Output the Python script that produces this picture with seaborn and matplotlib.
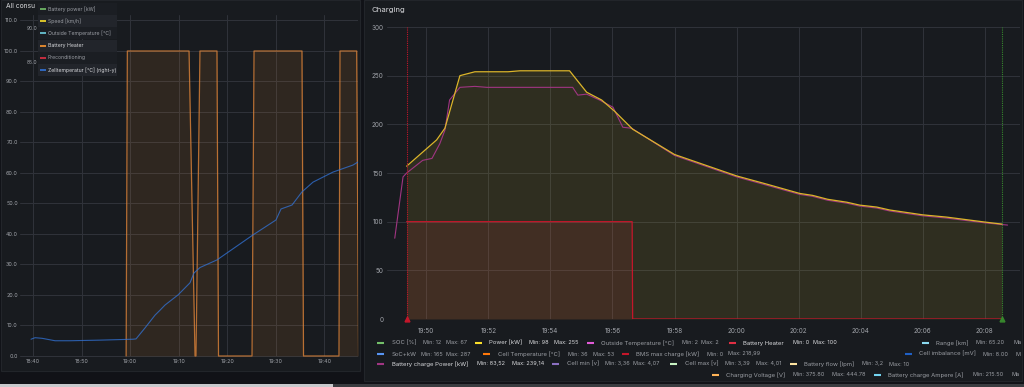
import numpy as np
import pandas as pd
import seaborn as sns
import matplotlib.pyplot as plt
import matplotlib.dates as mdates
from matplotlib.patches import Rectangle

W, H = 1024, 387
DAY = '2023-01-14 '

# ---- left panel "All consumers" ----
heater_time = ['18:59:10', '18:59:25', '19:12:07', '19:13:21', '19:13:33', '19:14:22',
               '19:17:52', '19:18:11', '19:25:05', '19:25:30', '19:35:22', '19:35:41',
               '19:42:59', '19:43:12', '19:46:38', '19:47:01']
heater_val = [0, 100, 100, 0, 0, 100, 100, 0, 0, 100, 100, 0, 0, 100, 100, 0]

cell_time = ['18:39:35', '18:40:25', '18:41:51', '18:44:32', '18:47:37', '18:53:47',
             '19:00:35', '19:01:12', '19:03:03', '19:05:07', '19:06:08', '19:07:10',
             '19:09:50', '19:12:19', '19:13:08', '19:14:22', '19:17:52', '19:25:17',
             '19:30:01', '19:31:03', '19:33:19', '19:35:22', '19:37:38', '19:41:45',
             '19:45:52', '19:47:18']
cell_val = [5.5, 6.0, 5.8, 5.0, 5.0, 5.2, 5.5, 5.6, 9.2, 13.4, 15.0, 16.7, 20.0, 24.0,
            27.2, 29.0, 31.5, 39.7, 44.6, 48.2, 49.5, 53.8, 57.0, 60.3, 62.6, 64.0]

left_legend = ['Battery power [kW]', 'Speed [km/h]', 'Outside Temperature [°C]',
               'Battery Heater', 'Preconditioning', 'Zelltemperatur [°C] (right-y)']
left_colors = ['#73bf69', '#fade2a', '#6ed0e0', '#ff9830', '#e02f44', '#3274d9']

# ---- right panel "Charging" ----
power_time = ['19:49:22', '19:50:20', '19:50:36', '19:51:05', '19:51:34', '19:52:38',
              '19:53:01', '19:54:37', '19:55:10', '19:55:39', '19:56:04', '19:56:39',
              '19:58:00', '20:00:00', '20:00:58', '20:02:02', '20:02:27', '20:02:56',
              '20:03:33', '20:03:58', '20:04:31', '20:04:56', '20:06:00', '20:06:46',
              '20:08:00', '20:08:33']
power_val = [157, 184, 196, 250, 254, 254, 255, 255, 233, 225, 213.5, 195, 169, 147,
             138.6, 129, 127, 123, 120, 117, 115, 112, 107, 104.7, 99.6, 97.5]

charge_time = ['19:48:59', '19:49:15', '19:49:22', '19:49:53', '19:50:11', '19:50:26',
               '19:50:36', '19:50:45', '19:51:05', '19:51:34', '19:51:57', '19:54:43',
               '19:54:53', '19:55:10', '19:55:35', '19:56:01', '19:56:20', '19:56:37',
               '19:58:00', '20:00:00', '20:00:58', '20:02:02', '20:02:27', '20:02:56',
               '20:03:33', '20:03:58', '20:04:31', '20:04:56', '20:06:00', '20:06:46',
               '20:08:00', '20:08:44']
charge_val = [83, 146, 150, 163, 165, 180, 194, 225, 238, 239, 238, 238, 230, 231, 225,
              217.6, 197, 196, 168, 146, 137.5, 128, 126, 122, 119, 116, 114, 111, 106,
              103.7, 98.8, 96.5]

bheat_time = ['19:49:22', '19:56:38', '19:56:39', '20:08:33']
bheat_val = [100, 100, 0, 0]

annot_time = ['19:49:22', '20:08:33']
annot_colors = ['#c4162a', '#37872d']

# legend of the charging panel (last column is cut off at the panel edge)
leg_names = ['SOC [%]', 'Power [kW]', 'Outside Temperature [°C]', 'Battery Heater', 'Range [km]',
             'SoC+kW', 'Cell Temperature [°C]', 'BMS max charge [kW]', 'Cell imbalance [mV]',
             'Battery charge Power [kW]', 'Cell min [v]', 'Cell max [v]', 'Battery flow [lpm]',
             'Charging Voltage [V]', 'Battery charge Ampere [A]']
leg_colors = ['#73bf69', '#fade2a', '#e05ad6', '#e02f44', '#8ad9f0',
              '#5794f2', '#ff780a', '#c4162a', '#1f60c4',
              '#a03582', '#8a6fc0', '#c8f2c2', '#fce2a0',
              '#ffb357', '#73d4f0']
leg_min = ['Min: 12', 'Min: 98', 'Min: 2', 'Min: 0', 'Min: 65.20',
           'Min: 165', 'Min: 36', 'Min: 0', 'Min: 8.00',
           'Min: 83,52', 'Min: 3,36', 'Min: 3,39', 'Min: 3,2',
           'Min: 375.80', 'Min: 215.50']
leg_max = ['Max: 67', 'Max: 255', 'Max: 2', 'Max: 100', 'Ma',
           'Max: 287', 'Max: 53', 'Max: 218,99', 'M',
           'Max: 239,14', 'Max: 4,07', 'Max: 4,01', 'Max: 10',
           'Max: 444.78', 'Ma']
leg_bright = ['Power [kW]', 'Battery Heater', 'Battery charge Power [kW]']
# layout: swatch x, label x, min x, max x, row y (pixels)
leg_pos = [(377, 392, 423, 446, 343), (475, 489, 529, 554, 343), (587, 601, 682, 701, 343),
           (729, 743, 793, 813, 343), (922, 936, 976, 1013, 343),
           (377, 392, 421, 446, 354), (483, 498, 568, 593, 354), (622, 636, 707, 728, 354),
           (905, 919, 983, 1015, 354),
           (377, 392, 477, 512, 364), (552, 567, 605, 633, 364), (670, 685, 725, 756, 364),
           (790, 804, 862, 889, 364),
           (712, 726, 793, 832, 375), (874, 888, 973, 1012, 375)]

sns.set_theme(style='dark')
plt.rcParams['font.family'] = ['Inter', 'DejaVu Sans']

BG = '#111217'
PANEL = '#181b1f'
GRID = '#30333a'
TICK = '#a0a3a9'
GRAY = '#9a9da3'
BRIGHT = '#d8d9dc'


def t(times):
    return pd.to_datetime([DAY + s for s in times])


def fig_rect(x0, y0, x1, y1):
    return [x0 / W, 1 - y1 / H, (x1 - x0) / W, (y1 - y0) / H]


fig = plt.figure(figsize=(W / 100, H / 100), dpi=100, facecolor=BG)

# background panels
bg = fig.add_axes([0, 0, 1, 1], zorder=-10)
bg.set_xlim(0, W)
bg.set_ylim(H, 0)
bg.axis('off')
bg.add_patch(Rectangle((1, 0), 359, 371, facecolor=PANEL, edgecolor='#22252a', lw=0.8))
bg.add_patch(Rectangle((364, 0), 658, 381, facecolor=PANEL, edgecolor='#22252a', lw=0.8))
bg.add_patch(Rectangle((0, 384), 333, 3, facecolor='#c8c9cc', lw=0))
bg.add_patch(Rectangle((333, 384), 691, 3, facecolor='#3a3c40', lw=0))


def style_axes(ax):
    ax.set_facecolor('none')
    for s in ax.spines.values():
        s.set_visible(False)
    ax.grid(True, color=GRID, lw=0.7)
    ax.tick_params(length=0, colors=TICK)
    ax.set_xlabel('')
    ax.set_ylabel('')


# ---- left chart ----
axl = fig.add_axes(fig_rect(20, 15, 358, 357))
hx = t(heater_time)
sns.lineplot(x=hx, y=heater_val, ax=axl, color='#e8893a', lw=0.9, alpha=0.75, estimator=None)
axl.fill_between(hx, heater_val, 0, color='#ff9830', alpha=0.1, lw=0)
sns.lineplot(x=t(cell_time), y=cell_val, ax=axl, color='#3274d9', lw=0.8, alpha=0.75, estimator=None)
axl.set_xlim(pd.Timestamp(DAY + '18:37:19'), pd.Timestamp(DAY + '19:46:54'))
axl.set_ylim(-0.33, 111.8)
axl.set_yticks(np.arange(0, 111, 10))
axl.yaxis.set_major_formatter(plt.FormatStrFormatter('%.1f'))
axl.xaxis.set_major_locator(mdates.MinuteLocator(byminute=range(0, 60, 10)))
axl.xaxis.set_major_formatter(mdates.DateFormatter('%H:%M'))
style_axes(axl)
axl.tick_params(labelsize=3.9, pad=1.5)

# ---- right chart ----
axr = fig.add_axes(fig_rect(387, 27, 1020, 319))
sns.lineplot(x=t(charge_time), y=charge_val, ax=axr, color='#a03582', lw=0.8, estimator=None)
px = t(power_time)
sns.lineplot(x=px, y=power_val, ax=axr, color='#dcb52a', lw=0.9, estimator=None)
axr.fill_between(px, power_val, 0, color='#fade2a', alpha=0.1, lw=0)
rx = t(bheat_time)
sns.lineplot(x=rx, y=bheat_val, ax=axr, color='#c4162a', lw=0.9, estimator=None)
axr.fill_between(rx, bheat_val, 0, color='#e02f44', alpha=0.1, lw=0)
for at, ac in zip(t(annot_time), annot_colors):
    axr.axvline(at, color=ac, lw=0.8, ls=(0, (1, 1)))
    axr.plot([at], [0], marker='^', ms=3.5, color=ac, clip_on=False, zorder=5)
axr.set_xlim(pd.Timestamp(DAY + '19:48:44'), pd.Timestamp(DAY + '20:09:08'))
axr.set_ylim(0, 300)
axr.set_yticks(np.arange(0, 301, 50))
axr.xaxis.set_major_locator(mdates.MinuteLocator(byminute=range(0, 60, 2)))
axr.xaxis.set_major_formatter(mdates.DateFormatter('%H:%M'))
style_axes(axr)
axr.tick_params(labelsize=4.6)
axr.tick_params(axis='x', pad=6.5)
axr.tick_params(axis='y', pad=2.5)

# ---- overlay: titles and legends ----
ov = fig.add_axes([0, 0, 1, 1], zorder=10)
ov.set_xlim(0, W)
ov.set_ylim(H, 0)
ov.axis('off')
ov.patch.set_alpha(0)

ov.text(6, 6, 'All consu', color=BRIGHT, fontsize=4.8, va='center', ha='left')
ov.text(372, 10, 'Charging', color=BRIGHT, fontsize=5.6, va='center', ha='left')
ov.text(27, 29, '90.0', color=TICK, fontsize=3.6, va='center')
ov.text(27, 62, '85.0', color=TICK, fontsize=3.6, va='center')

# left legend
for i, (name, col) in enumerate(zip(left_legend, left_colors)):
    y = 9 + i * 12.2
    shade = '#22252b' if i % 2 == 1 else '#1b1e23'
    ov.add_patch(Rectangle((38, y - 6), 79, 12, facecolor=shade, lw=0))
    ov.plot([40, 45.5], [y, y], color=col, lw=1.2, solid_capstyle='butt')
    c = BRIGHT if name in ('Battery Heater', 'Zelltemperatur [°C] (right-y)') else GRAY
    ov.text(48, y, name, color=c, fontsize=3.7, va='center', ha='left')

# right legend
for name, col, mn, mx, pos in zip(leg_names, leg_colors, leg_min, leg_max, leg_pos):
    sx, lx, nx, xx, y = pos
    c = BRIGHT if name in leg_bright else GRAY
    ov.plot([sx, sx + 7], [y, y], color=col, lw=1.5, solid_capstyle='butt')
    ov.text(lx, y, name, color=c, fontsize=4.3, va='center', ha='left')
    ov.text(nx, y, mn, color=c, fontsize=4.0, va='center', ha='left')
    ov.text(xx, y, mx, color=c, fontsize=4.0, va='center', ha='left')

fig.savefig('out.png', dpi=100, facecolor=BG)
